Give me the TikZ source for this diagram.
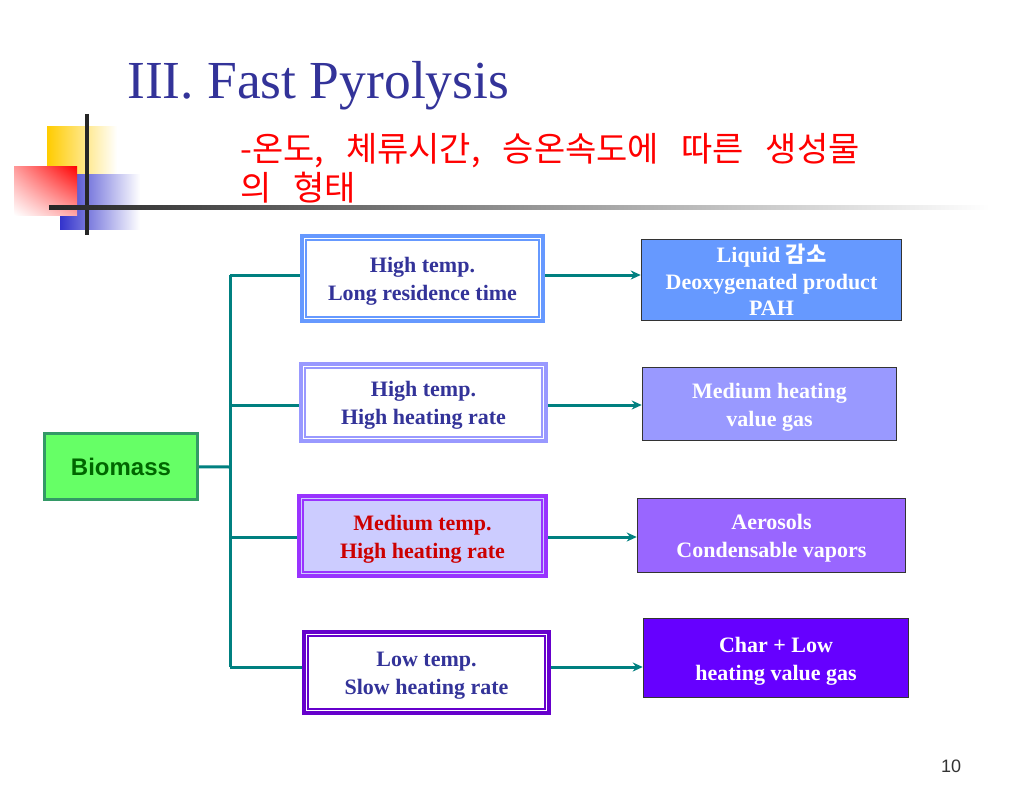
\documentclass[tikz,border=0pt]{standalone}
\usepackage{fontspec}
\setmainfont{Liberation Serif}
\setsansfont{Liberation Sans}
\newfontfamily\cjk{Noto Sans CJK KR}
\newfontfamily\cjksub{Noto Sans CJK KR}[WordSpace=2.9]
\usepackage{tikz}
\usetikzlibrary{positioning,calc,arrows.meta,shadings}

\definecolor{ttlblue}{HTML}{333399}
\definecolor{lnteal}{HTML}{008080}
\definecolor{decoyel}{HTML}{FFCC00}
\definecolor{decoblu}{HTML}{3333CC}
\definecolor{biofill}{HTML}{66FF66}
\definecolor{bioline}{HTML}{339966}
\definecolor{biotext}{HTML}{006600}
\definecolor{mcA}{HTML}{6699FF}
\definecolor{mcB}{HTML}{9999FF}
\definecolor{mcC}{HTML}{9933FF}
\definecolor{mcD}{HTML}{6600CC}
\definecolor{mfC}{HTML}{CCCCFF}
\definecolor{rfA}{HTML}{6699FF}
\definecolor{rfB}{HTML}{9999FF}
\definecolor{rfC}{HTML}{9966FF}
\definecolor{rfD}{HTML}{6600FF}

\newcommand\lift[1][21pt]{\rule{0pt}{#1}}

\begin{document}
\begin{tikzpicture}[x=1pt,y=-1pt,
   mid/.style={draw,line width=4pt,fill=white,inner sep=0pt,align=center,
      text=ttlblue,font=\bfseries\fontsize{22}{28}\selectfont},
   res/.style={draw=black!80,line width=1.5pt,inner sep=0pt,align=center,
      text=white,font=\bfseries\fontsize{22}{28}\selectfont},
   con/.style={lnteal,line width=3pt},
   arr/.style={con,-{Stealth[length=10pt,width=9pt]}}]
   \fill[white] (0,0) rectangle (1024,789);
   \useasboundingbox (0,0) rectangle (1024,789);

   % corner decoration
   \fill[left color=decoyel,middle color=decoyel,right color=white] (47,126) rectangle (117,175);
   \fill[left color=decoblu,middle color=decoblu,right color=white] (60,174) rectangle (140,229);
   \shade[upper right=red,lower left=white,upper left=red!40!white,lower right=red!35!white] (14,166) rectangle (77,215);
   \draw[black!85,line width=3.5pt] (87,114) -- (87,235);
   \shade[left color=black!85,middle color=black!60,right color=white] (49,205) rectangle (990,209);

   \node[anchor=base west,text=ttlblue,font=\fontsize{53.5}{60}\selectfont,inner sep=0pt] (ttl) at (127,99) {III. Fast Pyrolysis};
   \node[anchor=base west,text=red,font=\cjksub\fontsize{34}{38}\selectfont,inner sep=0pt] (sub1) at (240,161) {-온도, 체류시간, 승온속도에 따른 생성물};
   \node[anchor=base west,text=red,font=\cjksub\fontsize{34}{38}\selectfont,inner sep=0pt] (sub2) at (240,200) {의 형태};

   \path (121,466.5) node (bio) [draw=bioline,fill=biofill,line width=3pt,minimum width=153,minimum height=66,
            text=biotext,font=\sffamily\bfseries\fontsize{24}{28}\selectfont] {Biomass}
         (422.5,278.5) node (c1) [mid,draw=mcA,minimum width=241,minimum height=85] {\lift High temp.\\Long residence time}
         (423.5,402.5) node (c2) [mid,draw=mcB,minimum width=245,minimum height=77] {\lift High temp.\\High heating rate}
         (422.5,536)   node (c3) [mid,draw=mcC,fill=mfC,text=red!80!black,minimum width=247,minimum height=80] {\lift Medium temp.\\High heating rate}
         (426.5,672.5) node (c4) [mid,draw=mcD,minimum width=245,minimum height=81] {\lift Low temp.\\Slow heating rate}
         (771.5,280)   node (p1) [res,fill=rfA,font=\bfseries\fontsize{22}{26.5}\selectfont,minimum width=260,minimum height=81] {Liquid {\cjk\bfseries 감소}\\Deoxygenated product\\PAH}
         (769.5,404)   node (p2) [res,fill=rfB,minimum width=254,minimum height=73] {\lift Medium heating\\value gas}
         (771.5,535.5) node (p3) [res,fill=rfC,minimum width=268,minimum height=74] {\lift Aerosols\\Condensable vapors}
         (776,658)     node (p4) [res,fill=rfD,minimum width=265,minimum height=79] {\lift Char + Low\\heating value gas};

   % inner frame of the double borders
   \foreach \n/\c in {c1/mcA,c2/mcB,c3/mcC,c4/mcD}
      \draw[\c,line width=1.2pt] ($(\n.north west)+(6,6)$) rectangle ($(\n.south east)+(-6,-6)$);

   % tree
   \coordinate (tr) at (230,467);
   \coordinate (b1) at (230,275);
   \coordinate (b2) at (230,405);
   \coordinate (b3) at (230,537);
   \coordinate (b4) at (230,667);
   \draw[con] (bio) -- (tr);
   \draw[con] (b1) -- (b4);
   \foreach \i in {1,...,4} {
      \draw[con] (b\i) -- (b\i -| c\i.west);
      \draw[arr] (b\i -| c\i.east) -- (b\i -| p\i.west);
   }

   \node[font=\sffamily\fontsize{18}{20}\selectfont,text=black!80] (pg) at (951,766) {10};
\end{tikzpicture}
\end{document}
